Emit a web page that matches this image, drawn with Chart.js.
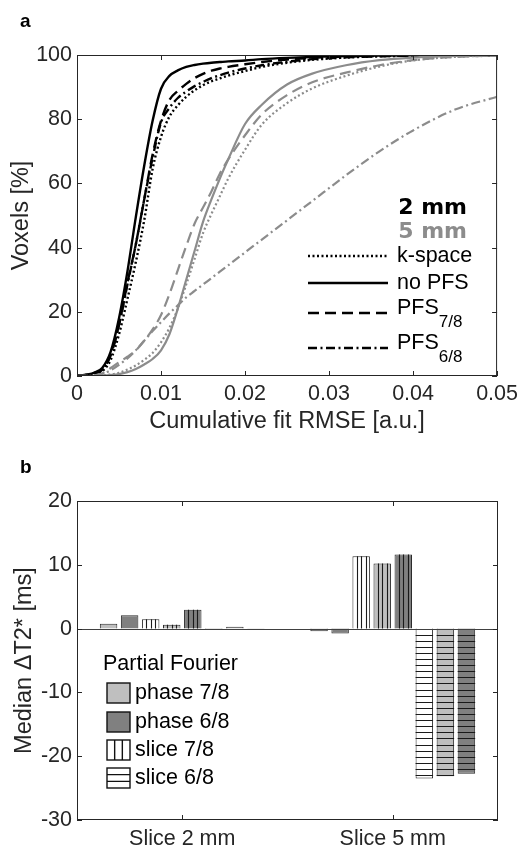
<!DOCTYPE html>
<html>
<head>
<meta charset="utf-8">
<script src="https://cdn.jsdelivr.net/npm/chart.js@4.4.1/dist/chart.umd.min.js"></script>
<style>
  html, body { margin: 0; padding: 0; background: #fff; }
  #wrap { position: relative; width: 523px; height: 848px; }
  canvas { position: absolute; left: 0; }
  #chart-a { top: 0; }
  #chart-b { top: 440px; }
</style>
</head>
<body>
<div id="wrap">
  <canvas id="chart-a" width="523" height="440"></canvas>
  <canvas id="chart-b" width="523" height="408"></canvas>
</div>
<script>
// a: 누적 RMSE 곡선 (x축 값)
var rmseGrid = [0, 0.002, 0.003, 0.004, 0.005, 0.006, 0.007, 0.008, 0.009, 0.010, 0.011, 0.012, 0.013, 0.014,
  0.015, 0.016, 0.017, 0.018, 0.020, 0.022, 0.025, 0.028, 0.032, 0.036, 0.040, 0.045, 0.050];

// 2 mm
var kspace2 = [0, 0.6, 1.5, 5, 13, 24, 35.5, 48.5, 64.5, 74.5, 80.8, 84.3, 87, 89, 90.6, 91.8, 92.7, 93.6, 95, 96.3, 97.6, 98.5, 99.2, 99.6, 99.8, 99.9, 100];
var noPfs2 = [0, 1, 2.5, 7.5, 18, 32.5, 49.5, 65.5, 79.5, 89.5, 93.5, 95.2, 96.3, 96.9, 97.3, 97.6, 97.8, 98, 98.3, 98.7, 99.1, 99.4, 99.7, 99.8, 99.9, 100, 100];
var pfs78_2 = [0, 0.8, 2, 6.5, 16, 29, 41, 55, 69, 79.5, 86, 88.8, 91, 92.8, 94.1, 95.1, 95.8, 96.3, 97.1, 97.8, 98.6, 99.1, 99.5, 99.7, 99.9, 100, 100];
var pfs68_2 = [0, 0.8, 2, 6.5, 16, 28.5, 41, 55, 68, 79, 83.5, 86.6, 88.6, 90.3, 91.6, 92.8, 93.7, 94.5, 95.8, 96.8, 97.9, 98.7, 99.3, 99.6, 99.8, 99.9, 100];

// 5 mm
var kspace5 = [0, 0, 0.2, 0.5, 1, 2, 3.3, 5, 7.2, 10.5, 15, 21, 28.5, 36.5, 44.5, 50.5, 56, 61.5, 70.5, 78.3, 85, 89.6, 93.5, 96.4, 98.3, 99.4, 99.8];
var noPfs5 = [0, 0, 0.1, 0.3, 0.6, 1.2, 2.2, 3.6, 5.3, 8, 13, 21, 30, 39, 48, 55, 61.5, 67.5, 78.5, 84.5, 90.8, 94.2, 96.8, 98.4, 99.2, 99.7, 100];
var pfs78_5 = [0, 0.2, 0.8, 2.5, 4.3, 6, 8, 11, 14.5, 19, 25.5, 33, 40.5, 47.5, 52.5, 57.5, 63, 67.5, 75, 81.5, 87.5, 91.5, 94.5, 96.8, 98.4, 99.4, 99.8];
var pfs68_5 = [0, 0.1, 0.6, 1.8, 3.5, 5.5, 8, 11, 14, 16.8, 19.5, 22, 24.5, 26.5, 28.5, 30.5, 32.5, 34.5, 38.5, 42.5, 48.5, 54.5, 62.5, 70, 76.5, 83, 87];

// b: median delta T2* 막대
var sliceLabels = ["Slice 2 mm", "Slice 5 mm"];
var phase78 = [0.75, -0.42];
var phase68 = [2.1, -0.75];
var slice78 = [1.45, 11.35];
var slice78phase78 = [0.6, 10.2];
var slice78phase68 = [2.95, 11.6];
var slice68 = [0.08, -23.5];
var slice68phase78 = [0.3, -23.15];
var slice68phase68 = [0.05, -22.75];

var FONT = '"Liberation Sans", Arial, sans-serif';
var INK = "#262626";
var GRAY = "#8c8c8c";
var LIGHT = "#bfbfbf";
var DARK = "#808080";

var DOT = [2, 2.5];
var DASH = [11, 6];
var DASHDOT = [9, 3.5, 2, 3.5];

Chart.defaults.font.family = FONT;
Chart.defaults.color = INK;
Chart.defaults.animation = false;

function pts(arr) {
  return rmseGrid.map(function (x, i) {
    return { x: x, y: arr[i] };
  });
}

function curve(label, arr, color, dash, width) {
  return {
    label: label,
    data: pts(arr),
    borderColor: color,
    borderWidth: width,
    borderDash: dash,
    pointRadius: 0,
    fill: false,
    cubicInterpolationMode: "monotone",
  };
}

// 매트랩식 박스 + 안쪽 눈금
function drawBox(chart) {
  var a = chart.chartArea;
  var ctx = chart.ctx;
  var xs = chart.scales.x;
  var ys = chart.scales.y;
  var tl = 5;
  ctx.save();
  ctx.strokeStyle = INK;
  ctx.lineWidth = 1;
  ctx.strokeRect(a.left + 0.5, a.top + 0.5, a.right - a.left - 1, a.bottom - a.top - 1);
  ctx.beginPath();
  xs.ticks.forEach(function (t, i) {
    var px = Math.round(xs.getPixelForTick(i)) + 0.5;
    ctx.moveTo(px, a.bottom);
    ctx.lineTo(px, a.bottom - tl);
    ctx.moveTo(px, a.top);
    ctx.lineTo(px, a.top + tl);
  });
  ys.ticks.forEach(function (t, i) {
    var py = Math.round(ys.getPixelForTick(i)) + 0.5;
    ctx.moveTo(a.left, py);
    ctx.lineTo(a.left + tl, py);
    ctx.moveTo(a.right, py);
    ctx.lineTo(a.right - tl, py);
  });
  ctx.stroke();
  ctx.restore();
}

function panelLetter(ctx, txt, y) {
  ctx.save();
  ctx.font = "bold 19px " + FONT;
  ctx.fillStyle = "#000";
  ctx.textAlign = "left";
  ctx.textBaseline = "alphabetic";
  ctx.fillText(txt, 20, y);
  ctx.restore();
}

// a 범례
var legendA = {
  id: "legendA",
  afterDraw: function (chart) {
    var ctx = chart.ctx;
    drawBox(chart);
    panelLetter(ctx, "a", 27);
    ctx.save();
    ctx.textBaseline = "middle";
    ctx.textAlign = "right";
    ctx.font = 'bold 22px "DejaVu Sans", ' + FONT;
    ctx.fillStyle = "#000";
    ctx.fillText("2 mm", 467, 208);
    ctx.fillStyle = GRAY;
    ctx.fillText("5 mm", 467, 232);

    var rows = [
      { dash: DOT, y: 256, txt: "k-space" },
      { dash: [], y: 283, txt: "no PFS" },
      { dash: DASH, y: 313, txt: "PFS", sub: "7/8" },
      { dash: DASHDOT, y: 348, txt: "PFS", sub: "6/8" },
    ];
    ctx.textAlign = "left";
    ctx.fillStyle = "#000";
    ctx.strokeStyle = "#000";
    ctx.lineWidth = 2.4;
    rows.forEach(function (r) {
      ctx.setLineDash(r.dash);
      ctx.beginPath();
      ctx.moveTo(308, r.y);
      ctx.lineTo(388, r.y);
      ctx.stroke();
      ctx.font = "21.5px " + FONT;
      if (r.sub) {
        ctx.fillText(r.txt, 397, r.y - 5);
        var w = ctx.measureText(r.txt).width;
        ctx.font = "17px " + FONT;
        ctx.fillText(r.sub, 397 + w, r.y + 9);
      } else {
        ctx.fillText(r.txt, 397, r.y);
      }
    });
    ctx.restore();
  },
};

new Chart(document.getElementById("chart-a"), {
  type: "line",
  data: {
    datasets: [
      curve("5 mm k-space", kspace5, GRAY, DOT, 2.2),
      curve("5 mm no PFS", noPfs5, GRAY, [], 2.2),
      curve("5 mm PFS 7/8", pfs78_5, GRAY, DASH, 2.2),
      curve("5 mm PFS 6/8", pfs68_5, GRAY, DASHDOT, 2.2),
      curve("2 mm k-space", kspace2, "#000", DOT, 2.4),
      curve("2 mm no PFS", noPfs2, "#000", [], 2.4),
      curve("2 mm PFS 7/8", pfs78_2, "#000", DASH, 2.4),
      curve("2 mm PFS 6/8", pfs68_2, "#000", DASHDOT, 2.4),
    ],
  },
  options: {
    responsive: false,
    layout: { padding: { left: 0, top: 55, right: 25, bottom: 0 } },
    plugins: { legend: { display: false }, tooltip: { enabled: false } },
    scales: {
      x: {
        type: "linear",
        min: 0,
        max: 0.05,
        grid: { display: false, drawTicks: false },
        border: { display: false },
        ticks: {
          stepSize: 0.01,
          padding: 5,
          font: { size: 21.5 },
          color: INK,
          callback: function (v) {
            return v === 0 ? "0" : v.toFixed(2);
          },
        },
        title: { display: true, text: "Cumulative fit RMSE [a.u.]", font: { size: 23.5 }, color: INK, padding: { top: 0, bottom: 4.6 } },
        afterFit: function (s) {
          s.height = 64;
        },
      },
      y: {
        min: 0,
        max: 100,
        grid: { display: false, drawTicks: false },
        border: { display: false },
        ticks: { stepSize: 20, padding: 5, font: { size: 21.5 }, color: INK },
        title: { display: true, text: "Voxels [%]", font: { size: 23.5 }, color: INK, padding: { top: 7, bottom: 0 } },
        afterFit: function (s) {
          s.width = 77;
        },
      },
    },
  },
  plugins: [legendA],
});

// b: 막대 빗금 + 0선 + 범례
var panelB = {
  id: "panelB",
  afterDatasetsDraw: function (chart) {
    var ctx = chart.ctx;
    var a = chart.chartArea;
    ctx.save();
    ctx.strokeStyle = "#1a1a1a";
    ctx.lineWidth = 1.1;
    chart.data.datasets.forEach(function (ds, di) {
      if (!ds.hatch) return;
      chart.getDatasetMeta(di).data.forEach(function (el) {
        var left = el.x - el.width / 2;
        var right = el.x + el.width / 2;
        var top = Math.min(el.y, el.base);
        var bot = Math.max(el.y, el.base);
        ctx.beginPath();
        if (ds.hatch === "v") {
          for (var k = 1; k < 4; k++) {
            var xx = Math.round(left + (el.width * k) / 4) + 0.5;
            ctx.moveTo(xx, top);
            ctx.lineTo(xx, bot);
          }
        } else {
          var dir = el.y > el.base ? 1 : -1;
          for (var yy = el.base + dir * 6.1; dir > 0 ? yy < bot : yy > top; yy += dir * 6.1) {
            var ry = Math.round(yy) + 0.5;
            ctx.moveTo(left, ry);
            ctx.lineTo(right, ry);
          }
        }
        ctx.stroke();
      });
    });
    // 0 기준선
    var y0 = Math.round(chart.scales.y.getPixelForValue(0)) + 0.5;
    ctx.strokeStyle = "#404040";
    ctx.lineWidth = 1;
    ctx.beginPath();
    ctx.moveTo(a.left, y0);
    ctx.lineTo(a.right, y0);
    ctx.stroke();
    ctx.restore();
  },
  afterDraw: function (chart) {
    var ctx = chart.ctx;
    drawBox(chart);
    panelLetter(ctx, "b", 33);
    ctx.save();
    ctx.fillStyle = "#000";
    ctx.textBaseline = "middle";
    ctx.textAlign = "left";
    ctx.font = "21.5px " + FONT;
    ctx.fillText("Partial Fourier", 103, 224);
    var items = [
      { fill: LIGHT, hatch: null, y: 243, txt: "phase 7/8" },
      { fill: DARK, hatch: null, y: 272, txt: "phase 6/8" },
      { fill: "#fff", hatch: "v", y: 300, txt: "slice 7/8" },
      { fill: "#fff", hatch: "h", y: 328, txt: "slice 6/8" },
    ];
    items.forEach(function (it) {
      var x = 107, w = 23, h = 20;
      ctx.fillStyle = it.fill;
      ctx.fillRect(x, it.y, w, h);
      ctx.strokeStyle = "#111";
      ctx.lineWidth = 1.4;
      ctx.strokeRect(x, it.y, w, h);
      ctx.beginPath();
      if (it.hatch === "v") {
        ctx.moveTo(x + w / 3, it.y);
        ctx.lineTo(x + w / 3, it.y + h);
        ctx.moveTo(x + (2 * w) / 3, it.y);
        ctx.lineTo(x + (2 * w) / 3, it.y + h);
      } else if (it.hatch === "h") {
        ctx.moveTo(x, it.y + h / 3);
        ctx.lineTo(x + w, it.y + h / 3);
        ctx.moveTo(x, it.y + (2 * h) / 3);
        ctx.lineTo(x + w, it.y + (2 * h) / 3);
      }
      ctx.stroke();
      ctx.fillStyle = "#000";
      ctx.fillText(it.txt, 135, it.y + h / 2);
    });
    ctx.restore();
  },
};

function bar(label, arr, fill, hatch) {
  return {
    label: label,
    data: arr,
    backgroundColor: fill,
    borderColor: "#2b2b2b",
    borderWidth: 1,
    hatch: hatch,
    categoryPercentage: 0.8,
    barPercentage: 0.83,
  };
}

new Chart(document.getElementById("chart-b"), {
  type: "bar",
  data: {
    labels: sliceLabels,
    datasets: [
      bar("phase 7/8", phase78, LIGHT, null),
      bar("phase 6/8", phase68, DARK, null),
      bar("slice 7/8", slice78, "#fff", "v"),
      bar("slice 7/8 + phase 7/8", slice78phase78, LIGHT, "v"),
      bar("slice 7/8 + phase 6/8", slice78phase68, DARK, "v"),
      bar("slice 6/8", slice68, "#fff", "h"),
      bar("slice 6/8 + phase 7/8", slice68phase78, LIGHT, "h"),
      bar("slice 6/8 + phase 6/8", slice68phase68, DARK, "h"),
    ],
  },
  options: {
    responsive: false,
    layout: { padding: { left: 0, top: 61, right: 25, bottom: 0 } },
    plugins: { legend: { display: false }, tooltip: { enabled: false } },
    scales: {
      x: {
        grid: { display: false, drawTicks: false },
        border: { display: false },
        ticks: { padding: 6, font: { size: 21.5 }, color: INK },
        afterFit: function (s) {
          s.height = 28;
        },
      },
      y: {
        min: -30,
        max: 20,
        grid: { display: false, drawTicks: false },
        border: { display: false },
        ticks: { stepSize: 10, padding: 5, font: { size: 21.5 }, color: INK },
        title: { display: true, text: "Median \u0394T2* [ms]", font: { size: 23.5 }, color: INK, padding: { top: 10.6, bottom: 0 } },
        afterFit: function (s) {
          s.width = 77;
        },
      },
    },
  },
  plugins: [panelB],
});
</script>
</body>
</html>
